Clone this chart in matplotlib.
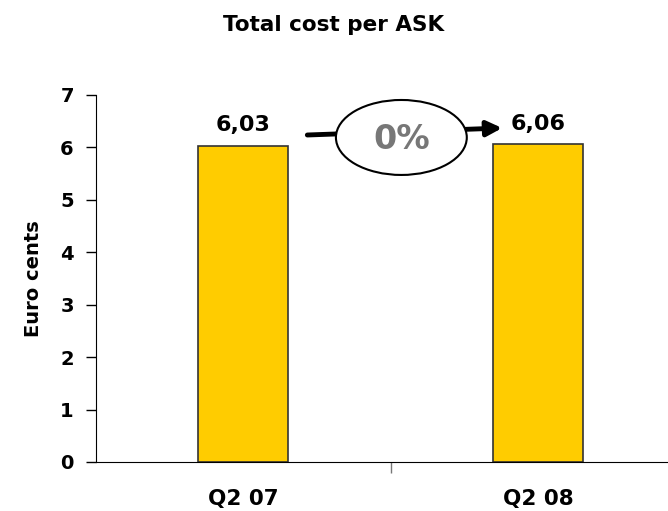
import matplotlib
matplotlib.use("Agg")
import matplotlib.pyplot as plt
from matplotlib.patches import Ellipse

categories = ["Q2 07", "Q2 08"]
values = [6.03, 6.06]
value_labels = ["6,03", "6,06"]
change_label = "0%"
yticks = [0, 1, 2, 3, 4, 5, 6, 7]

plt.rcParams['font.family'] = ['DejaVu Sans']
fig = plt.figure(figsize=(6.68, 5.11), dpi=100)
ax = fig.add_axes([0.1437, 0.0959, 0.8825, 0.7182])

x = list(range(len(categories)))
ax.bar(x, values, width=0.305, color="#FFCC00", edgecolor="#333333", linewidth=1.2, zorder=2)
ax.set_xlim(-0.5, 1.5)
ax.set_ylim(0, 7)
ax.set_yticks(yticks)
ax.set_yticklabels([str(t) for t in yticks], fontsize=14, fontweight="bold")
ax.set_xticks([0.5])
ax.set_xticklabels([""])
ax.tick_params(axis="x", length=8, width=1, color="#777777")
ax.tick_params(axis="y", length=7, width=1, pad=9)
for s in ["top", "right"]:
    ax.spines[s].set_visible(False)
for i, c in enumerate(categories):
    ax.text(i, -0.82, c, ha="center", va="baseline", fontsize=15.5, fontweight="bold")
for i, (v, l) in enumerate(zip(values, value_labels)):
    ax.text(i, v + 0.2, l, ha="center", va="bottom", fontsize=16, fontweight="bold")
ax.set_ylabel("Euro cents", fontsize=14, fontweight="bold", labelpad=12)

# arrow and ellipse
ax.annotate("", xy=(0.878, 6.37), xytext=(0.217, 6.237),
            arrowprops=dict(arrowstyle="-|>,head_length=0.9,head_width=0.45", lw=3.5, color="black",
                            shrinkA=0, shrinkB=0),
            annotation_clip=False, zorder=3)
ell = Ellipse((0.536, 6.19), 0.444, 1.43, facecolor="white", edgecolor="black", lw=1.5, zorder=4, clip_on=False)
ax.add_patch(ell)
ax.text(0.536, 6.15, change_label, ha="center", va="center", fontsize=24, fontweight="bold",
        color="#777777", zorder=5)

fig.text(0.5, 0.951, "Total cost per ASK", ha="center", va="center", fontsize=15.5, fontweight="bold")
fig.savefig("out.png", dpi=100)
